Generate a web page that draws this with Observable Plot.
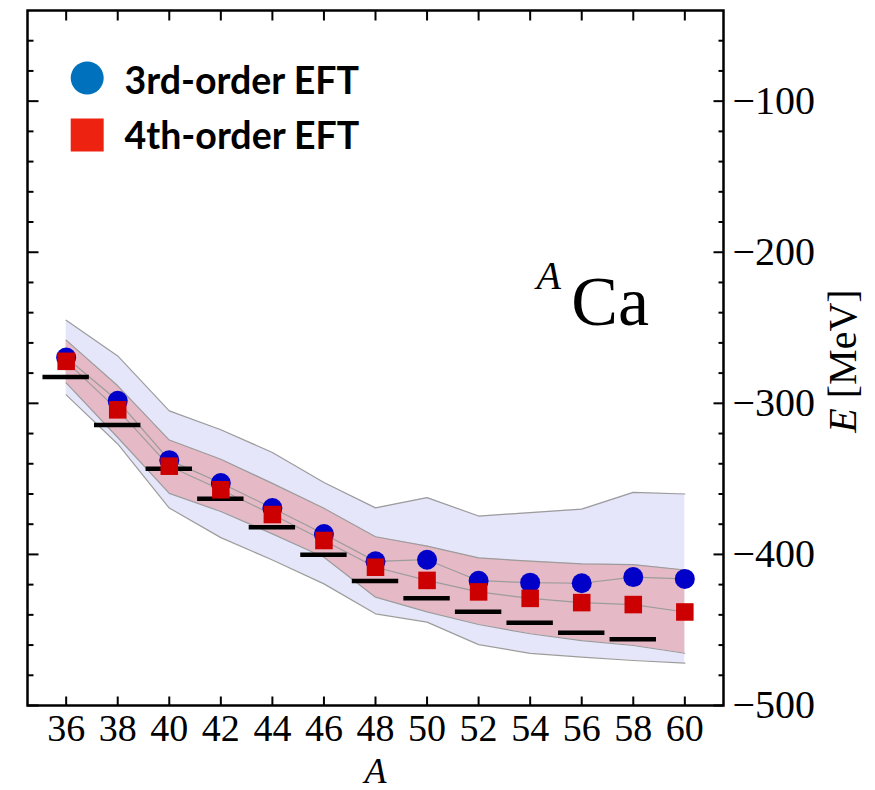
<!DOCTYPE html>
<html>
<head>
<meta charset="utf-8">
<script src="https://cdn.jsdelivr.net/npm/d3@7"></script>
<script src="https://cdn.jsdelivr.net/npm/@observablehq/plot@0.6"></script>
<style>
  body { margin: 0; background: #fff; }
  #chart { position: relative; width: 875px; height: 790px; }
</style>
</head>
<body>
<div id="chart"></div>
<script>
// ---- Data ----
const massNumbers = [36, 38, 40, 42, 44, 46, 48, 50, 52, 54, 56, 58, 60];
const thirdOrder  = [-269.7, -298.3, -337.6, -352.7, -369.3, -386.5, -404.6, -403.5, -417.4, -418.7, -419.1, -415.0, -416.2];
const fourthOrder = [-272.2, -304.3, -341.6, -357.2, -373.6, -390.8, -408.5, -417.2, -424.8, -429.1, -431.9, -433.2, -438.1];
// outer (lavender) uncertainty band
const outerHigh = [-245.0, -268.6, -305.0, -317.5, -332.5, -352.4, -369.2, -362.4, -374.6, -372.3, -370.0, -358.9, -360.0];
const outerLow  = [-294.4, -326.9, -369.3, -388.9, -403.7, -419.5, -439.3, -444.8, -459.7, -465.5, -468.0, -470.2, -472.0];
// inner (pink) uncertainty band
const innerHigh = [-258.2, -288.4, -324.3, -337.0, -353.0, -369.5, -388.3, -394.5, -402.3, -404.5, -406.3, -406.8, -410.3];
const innerLow  = [-286.5, -322.6, -359.6, -371.6, -386.4, -401.9, -428.3, -438.0, -446.4, -452.5, -457.0, -460.3, -465.4];
// experiment (black bars)
const expMass   = [36, 38, 40, 42, 44, 46, 48, 50, 52, 54, 56, 58];
const expEnergy = [-282.5, -314.4, -343.3, -363.1, -382.0, -400.2, -417.6, -429.0, -438.0, -445.3, -451.9, -456.1];

// axes
const xDomain = [34.5, 61.5];
const yDomain = [-500, -40];
const xTicks = [36, 38, 40, 42, 44, 46, 48, 50, 52, 54, 56, 58, 60];
const xTickLabels = ["36", "38", "40", "42", "44", "46", "48", "50", "52", "54", "56", "58", "60"];
const yMajor = [-100, -200, -300, -400, -500];
const yTickLabels = ["\u2212100", "\u2212200", "\u2212300", "\u2212400", "\u2212500"];
const yMinor = [-60, -80, -120, -140, -160, -180, -220, -240, -260, -280, -320, -340, -360, -380, -420, -440, -460, -480];

const legendLabels = ["3rd-order EFT", "4th-order EFT"];
const nucleus = [{text: "Ca", A: 57.1, E: -248.0}];
const nucleusSup = [{text: "A", A: 54.72, E: -224.3}];

// ---- Build tables ----
const rows = massNumbers.map((A, i) => ({
  A, third: thirdOrder[i], fourth: fourthOrder[i],
  oHi: outerHigh[i], oLo: outerLow[i], iHi: innerHigh[i], iLo: innerLow[i]
}));
const expRows = expMass.map((A, i) => ({A, E: expEnergy[i]}));

const edge = "#9c9c9c";
const tick = {stroke: "black", strokeWidth: 2, strokeLinecap: "butt", anchor: "start", r: 0};

const svg = Plot.plot({
  width: 875,
  height: 790,
  marginLeft: 27,
  marginRight: 152,
  marginTop: 10,
  marginBottom: 85,
  style: {fontFamily: "Liberation Serif, Times New Roman, serif", fontSize: "40px", background: "#fff", color: "black", overflow: "visible"},
  x: {domain: xDomain},
  y: {domain: yDomain},
  marks: [
    Plot.areaY(rows, {x: "A", y1: "oLo", y2: "oHi", fill: "#e6e6fa"}),
    Plot.line(rows, {x: "A", y: "oHi", stroke: edge, strokeWidth: 1.2}),
    Plot.line(rows, {x: "A", y: "oLo", stroke: edge, strokeWidth: 1.2}),
    Plot.areaY(rows, {x: "A", y1: "iLo", y2: "iHi", fill: "#e5b9c6"}),
    Plot.line(rows, {x: "A", y: "iHi", stroke: edge, strokeWidth: 1.2}),
    Plot.line(rows, {x: "A", y: "iLo", stroke: edge, strokeWidth: 1.2}),
    Plot.line(rows, {x: "A", y: "third", stroke: edge, strokeWidth: 1.2}),
    Plot.line(rows, {x: "A", y: "fourth", stroke: edge, strokeWidth: 1.2}),
    Plot.ruleY(expRows, {y: "E", x1: d => d.A - 0.9, x2: d => d.A + 0.9, stroke: "black", strokeWidth: 4.5}),
    Plot.dot(rows, {x: "A", y: "third", r: 10, fill: "#0000c8"}),
    Plot.dot(rows, {x: "A", y: "fourth", r: 9.9, symbol: "square", fill: "#cc0000"}),

    // legend
    Plot.dot([0], {x: null, y: null, frameAnchor: "top-left", dx: 59.7, dy: 67.5, r: 16.5, fill: "#0072bd"}),
    Plot.dot([0], {x: null, y: null, frameAnchor: "top-left", dx: 59.7, dy: 124.5, r: 18.6, symbol: "square", fill: "#ee2211"}),
    Plot.text([legendLabels[0]], {x: null, y: null, text: d => d, frameAnchor: "top-left", dx: 97, dy: 83.3, lineAnchor: "bottom", textAnchor: "start", fontFamily: "Lato, sans-serif", fontWeight: "bold", fontSize: 37.5}),
    Plot.text([legendLabels[1]], {x: null, y: null, text: d => d, frameAnchor: "top-left", dx: 97, dy: 138.3, lineAnchor: "bottom", textAnchor: "start", fontFamily: "Lato, sans-serif", fontWeight: "bold", fontSize: 37.5}),

    // nucleus label
    Plot.text(nucleus, {x: "A", y: "E", text: "text", fontSize: 70, lineAnchor: "bottom", textAnchor: "middle"}),
    Plot.text(nucleusSup, {x: "A", y: "E", text: "text", fontSize: 40, fontStyle: "italic", lineAnchor: "bottom", textAnchor: "middle"}),

    // frame
    Plot.frame({stroke: "black", strokeWidth: 2.5}),

    // inward ticks
    Plot.vector(xTicks, {...tick, x: d => d, y: yDomain[0], length: 9, rotate: 0}),
    Plot.vector(xTicks, {...tick, x: d => d, y: yDomain[1], length: 10, rotate: 180}),
    Plot.vector(yMajor, {...tick, x: xDomain[0], y: d => d, length: 11, rotate: 90}),
    Plot.vector(yMinor, {...tick, x: xDomain[0], y: d => d, length: 6, rotate: 90}),
    Plot.vector(yMajor, {...tick, x: xDomain[1], y: d => d, length: 10, rotate: -90}),
    Plot.vector(yMinor, {...tick, x: xDomain[1], y: d => d, length: 5, rotate: -90}),

    // tick labels
    Plot.axisX({ticks: xTicks, tickSize: 0, tickPadding: 9, fontSize: 38, tickFormat: d => xTickLabels[xTicks.indexOf(d)], label: null}),
    Plot.axisY({anchor: "right", ticks: yMajor, tickSize: 0, tickPadding: 9, tickFormat: d => yTickLabels[yMajor.indexOf(d)], label: null}),

    // axis titles
    Plot.text(["A"], {x: null, y: null, text: d => d, frameAnchor: "bottom", dy: 77, lineAnchor: "bottom", textAnchor: "middle", fontStyle: "italic", fontSize: 36}),
    Plot.text(["E [MeV]"], {x: null, y: null, text: d => d, frameAnchor: "right", dx: 132, dy: 3, rotate: -90, lineAnchor: "bottom", textAnchor: "middle", fontSize: 40, ariaLabel: "ylabel"})
  ]
});

// italic E in the y-axis title
const yl = [...svg.querySelectorAll("text")].find(t => t.textContent === "E [MeV]");
if (yl) {
  const target = yl.querySelector("tspan") || yl;
  target.textContent = "";
  const ns = "http://www.w3.org/2000/svg";
  const e = document.createElementNS(ns, "tspan");
  e.setAttribute("font-style", "italic");
  e.textContent = "E";
  target.appendChild(e);
  target.appendChild(document.createTextNode(" [MeV]"));
}

document.getElementById("chart").appendChild(svg);
</script>
</body>
</html>
